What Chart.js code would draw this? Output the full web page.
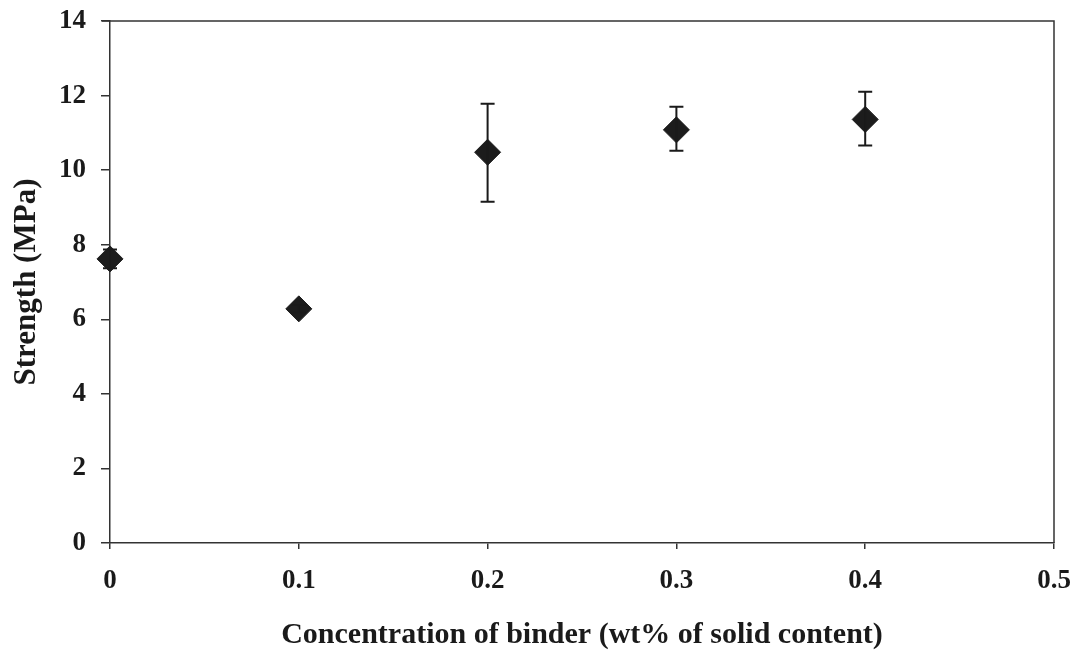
<!DOCTYPE html>
<html>
<head>
<meta charset="utf-8">
<script src="https://cdn.jsdelivr.net/npm/chart.js@4"></script>
<style>
  html, body { margin: 0; padding: 0; background: #fff; }
  #canvasContainer { width: 1088px; height: 655px; }
</style>
</head>
<body>
<div id="canvasContainer"><canvas id="Grafica"></canvas></div>
<script>
// binder concentration (wt%) vs strength (MPa)
const binder = [0, 0.1, 0.2, 0.3, 0.4];
const strength = [7.62, 6.28, 10.48, 11.08, 11.36];
const errUp = [0.25, 0.1, 1.3, 0.62, 0.74];
const errDown = [0.25, 0.1, 1.33, 0.56, 0.7];

const ink = '#1a1a1a';
const serif = 'Liberation Serif, Times New Roman, serif';

// error bars + closed frame around the plot area
const errorBars = {
    id: 'errorBars',
    afterDatasetsDraw(chart){
        let ctx = chart.ctx;
        let xs = chart.scales.x, ys = chart.scales.y;
        ctx.save();
        ctx.strokeStyle = ink;
        ctx.lineWidth = 2;
        binder.forEach((b, i) => {
            let px = xs.getPixelForValue(b);
            let top = ys.getPixelForValue(strength[i] + errUp[i]);
            let bot = ys.getPixelForValue(strength[i] - errDown[i]);
            ctx.beginPath();
            ctx.moveTo(px, top); ctx.lineTo(px, bot);
            ctx.moveTo(px - 7, top); ctx.lineTo(px + 7, top);
            ctx.moveTo(px - 7, bot); ctx.lineTo(px + 7, bot);
            ctx.stroke();
        });
        ctx.restore();
    },
    beforeDatasetsDraw(chart){
        let a = chart.chartArea, ctx = chart.ctx;
        ctx.save();
        ctx.strokeStyle = '#333';
        ctx.lineWidth = 1.5;
        ctx.beginPath();
        ctx.moveTo(a.left - 8, a.top);
        ctx.lineTo(a.right, a.top);
        ctx.lineTo(a.right, a.bottom);
        ctx.stroke();
        ctx.restore();
    }
};

new Chart(document.getElementById('Grafica').getContext('2d'), {
    type: 'scatter',
    data: {
        datasets: [{
            label: 'Strength',
            data: binder.map((b, i) => ({x: b, y: strength[i]})),
            pointStyle: 'rectRot',
            pointRadius: 13,
            pointHoverRadius: 13,
            backgroundColor: '#1c1c1c',
            borderColor: '#1c1c1c',
            borderWidth: 1,
            clip: false
        }]
    },
    options: {
        responsive: true,
        maintainAspectRatio: false,
        animation: false,
        layout: { padding: { left: 0, right: 34, top: 21, bottom: 0 } },
        plugins: { legend: { display: false }, tooltip: { enabled: false } },
        scales: {
            x: {
                type: 'linear',
                min: 0, max: 0.5,
                afterFit: (s) => { s.height = 112; s.paddingRight = 0; s.paddingLeft = 0; },
                ticks: {
                    stepSize: 0.1,
                    padding: 16,
                    color: ink,
                    font: { family: serif, size: 27, weight: 'bold' },
                    callback: (v) => v === 0 ? '0' : v.toFixed(1)
                },
                grid: { drawOnChartArea: false, drawTicks: true, tickLength: 6, color: '#333', lineWidth: 1.5 },
                border: { display: true, color: '#333', width: 1.5 },
                title: {
                    display: true,
                    text: 'Concentration of binder (wt% of solid content)',
                    color: ink,
                    font: { family: serif, size: 30, weight: 'bold' },
                    padding: { top: 0, bottom: 2 }
                }
            },
            y: {
                min: 0, max: 14,
                afterFit: (s) => { s.width = 110; s.paddingTop = 0; s.paddingBottom = 0; },
                ticks: {
                    stepSize: 2,
                    padding: 15,
                    color: ink,
                    font: { family: serif, size: 27, weight: 'bold' }
                },
                grid: { drawOnChartArea: false, drawTicks: true, tickLength: 9, color: '#333', lineWidth: 1.5 },
                border: { display: true, color: '#333', width: 1.5 },
                title: {
                    display: true,
                    text: 'Strength (MPa)',
                    color: ink,
                    font: { family: serif, size: 31, weight: 'bold' },
                    padding: { top: 8, bottom: 0 }
                }
            }
        }
    },
    plugins: [errorBars]
});
</script>
</body>
</html>
